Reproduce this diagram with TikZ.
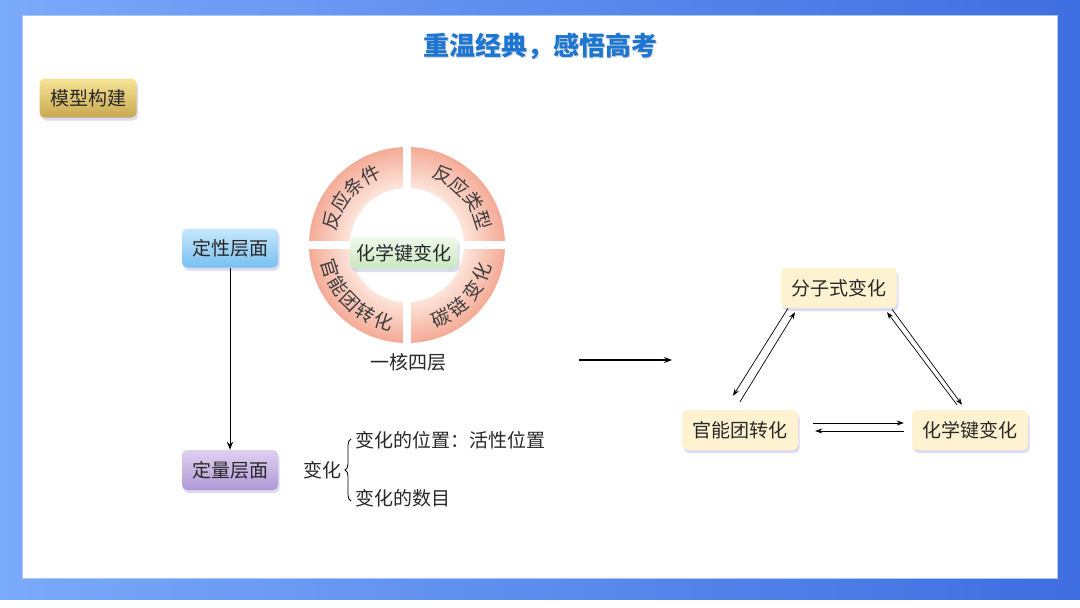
\documentclass[tikz,border=0pt]{standalone}
\usepackage{fontspec}
\setmainfont{Noto Sans CJK SC}
\usetikzlibrary{shadows,calc,decorations.pathreplacing,arrows.meta}
\definecolor{bgl}{RGB}{122,170,249}
\definecolor{bgr}{RGB}{62,110,224}
\definecolor{edge}{RGB}{170,198,245}
\definecolor{titleblue}{RGB}{28,118,210}
\definecolor{ringout}{RGB}{244,172,152}
\definecolor{ringin}{RGB}{253,230,220}
\definecolor{goldA}{RGB}{246,228,150}
\definecolor{goldB}{RGB}{200,168,80}
\definecolor{blueA}{RGB}{200,232,252}
\definecolor{blueB}{RGB}{120,192,240}
\definecolor{purA}{RGB}{222,208,240}
\definecolor{purB}{RGB}{178,152,214}
\definecolor{grnA}{RGB}{240,250,236}
\definecolor{grnB}{RGB}{200,230,192}
\definecolor{cream}{RGB}{254,242,208}
\definecolor{txt}{RGB}{40,40,40}
\newcommand{\myfs}[1]{\fontsize{#1}{#1}\selectfont}
\begin{document}
\begin{tikzpicture}[x=1pt,y=-1pt,
  boxbase/.style={rounded corners=5pt, text=txt, font=\myfs{19}, inner sep=0pt,
     drop shadow={shadow xshift=1.5pt, shadow yshift=-3pt, opacity=0.35, fill=black!30!blue!40}},
  trib/.style={boxbase, fill=cream, minimum width=116pt, minimum height=40pt},
  plain/.style={text=txt, font=\myfs{19}, inner sep=0pt},
  ringtxt/.style={text=txt!90, font=\myfs{19}, inner sep=0pt},
  arr/.style={-{Stealth[length=7pt,width=5pt]}, line width=0.7pt, black},
  bigarr/.style={-{Stealth[length=8pt,width=6pt]}, line width=1.1pt, black}]
\useasboundingbox (0,0) rectangle (1080,608);
% background frame
\shade[left color=bgl, right color=bgr] (0,0) rectangle (1080,600);
\fill[white] (0,600) rectangle (1080,608);
\fill[white, draw=edge, line width=1pt] (22,15) rectangle (1057,578);
% title
\node[font=\myfs{26}\bfseries, text=gray!60, opacity=0.6] at (541.5,47.5) {重温经典，感悟高考};
\node[font=\myfs{26}\bfseries, text=titleblue] (title) at (540,46) {重温经典，感悟高考};
% model box
\node[boxbase, top color=goldA, bottom color=goldB, minimum width=97pt, minimum height=39pt] (model) at (88,98) {模型构建};
% left column
\node[boxbase, top color=blueA, bottom color=blueB, minimum width=96pt, minimum height=39pt] (qual) at (230,248) {定性层面};
\node[boxbase, top color=purA, bottom color=purB, minimum width=96pt, minimum height=40pt] (quan) at (230,470) {定量层面};
\draw[bigarr, line width=1pt] (qual.south) -- (quan.north);
% ring
\coordinate (c) at (407,245);
\foreach \i in {0,...,20}{
  \pgfmathsetmacro{\rr}{98-2*\i}
  \pgfmathsetmacro{\mx}{100-5*\i}
  \fill[ringout!\mx!ringin] (c) circle[radius=\rr pt];
}
\fill[white] (c) circle[radius=57pt];
\fill[white] (403,140) rectangle (411,350);
\fill[white] (300,241) rectangle (515,249);
\foreach \ch/\a in {反/162,应/147,条/132,件/117}
  \node[ringtxt, rotate=\a-90] at ($(c)+(\a:79pt)$) {\ch};
\foreach \ch/\a in {反/63,应/48,类/33,型/18}
  \node[ringtxt, rotate=\a-90] at ($(c)+(\a:79pt)$) {\ch};
\foreach \ch/\a in {官/197,能/211,团/225,转/239,化/253}
  \node[ringtxt, rotate=\a+90] at ($(c)+(\a:80pt)$) {\ch};
\foreach \ch/\a in {碳/295,链/310,变/325,化/340}
  \node[ringtxt, rotate=\a+90] at ($(c)+(\a:80pt)$) {\ch};
\node[boxbase, top color=grnA, bottom color=grnB, minimum width=108pt, minimum height=32pt] (core) at (404,253) {化学键变化};
\node[plain] (yh) at (408,362) {一核四层};
% big arrow
\coordinate (a1) at (579,360);
\coordinate (a2) at (672,360);
\draw[bigarr] (a1) -- (a2);
% brace part
\node[plain] (bh) at (322,470) {变化};
\coordinate (b1) at (351,501);
\coordinate (b2) at (351,439);
\draw[line width=0.8pt, decorate, decoration={brace, amplitude=6pt}] (b1) -- (b2);
\node[plain, anchor=west] (pos) at (355,440) {变化的位置：活性位置};
\node[plain, anchor=west] (num) at (355,498) {变化的数目};
% triangle
\node[trib] (F) at (839,288) {分子式变化};
\node[trib] (G) at (740,430) {官能团转化};
\node[trib] (H) at (970,430) {化学键变化};
\draw[arr] ($(F.south)+(-51,0)$) -- ($(G.north)+(-7,-14)$);
\draw[arr] ($(G.north)+(0,-8)$) -- ($(F.south)+(-44,4)$);
\draw[arr] ($(F.south)+(53,1)$) -- ($(H.north)+(-8,-5)$);
\draw[arr] ($(H.north)+(-13,-5)$) -- ($(F.south)+(48,4)$);
\draw[arr] ($(G.east)+(15,-7)$) -- ($(H.west)+(-8,-7)$);
\draw[arr] ($(H.west)+(-8,1)$) -- ($(G.east)+(17,1)$);
\end{tikzpicture}
\end{document}
